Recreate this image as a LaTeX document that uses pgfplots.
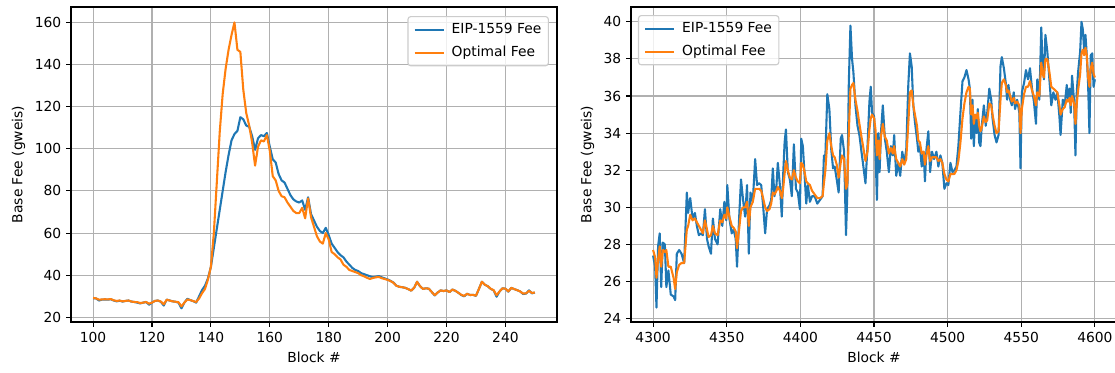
\documentclass[border=0pt]{standalone}
\usepackage{fontspec}
\setmainfont{DejaVu Sans}
\usepackage{pgfplots}
\usepackage{pgfplotstable}
\pgfplotsset{compat=1.18}
\definecolor{tblue}{HTML}{1F77B4}
\definecolor{torange}{HTML}{FF7F0E}
\definecolor{gridc}{HTML}{B0B0B0}
\definecolor{legc}{HTML}{CCCCCC}

\pgfplotstableread{
b e o
100 29.0 29.2
101 29.0 29.0
102 28.0 28.4
103 28.4 28.5
104 28.5 28.6
105 28.4 28.5
106 28.6 28.7
107 28.0 28.1
108 27.6 27.8
109 27.9 28.0
110 27.5 27.6
111 27.8 27.8
112 28.0 28.0
113 27.5 27.5
114 27.3 27.3
115 27.0 27.2
116 26.6 26.8
117 27.0 27.0
118 27.3 27.3
119 26.0 26.5
120 27.0 27.0
121 27.8 27.8
122 28.0 28.0
123 27.4 27.5
124 25.6 26.2
125 28.4 28.4
126 28.0 28.0
127 27.6 27.6
128 27.4 27.4
129 27.0 27.2
130 24.3 25.2
131 27.0 27.0
132 28.8 28.5
133 28.2 28.2
134 27.7 27.7
135 27.0 27.3
136 30.0 29.0
137 33.0 31.5
138 35.0 33.5
139 38.5 38.0
140 44.0 44.0
141 53.0 60.0
142 62.0 84.0
143 71.0 108.0
144 80.0 126.0
145 89.0 138.0
146 97.0 147.0
147 104.0 154.0
148 107.0 160.0
149 108.5 147.0
150 115.0 146.0
151 114.0 128.0
152 111.0 117.0
153 110.5 111.0
154 106.0 103.0
155 99.5 92.0
156 105.0 101.0
157 106.5 104.0
158 106.0 103.5
159 107.5 106.5
160 101.0 99.0
161 95.0 87.0
162 93.5 85.0
163 88.0 80.0
164 85.0 77.5
165 84.0 77.0
166 81.0 74.5
167 78.0 72.5
168 76.0 70.5
169 75.0 69.5
170 74.5 69.5
171 75.5 72.0
172 71.0 67.0
173 77.0 76.5
174 69.0 67.5
175 66.0 63.0
176 63.0 58.5
177 61.0 56.0
178 60.0 55.0
179 62.5 60.0
180 59.0 57.0
181 55.0 51.0
182 53.0 50.0
183 51.0 48.5
184 49.5 47.5
185 48.5 45.0
186 46.5 44.0
187 45.0 42.5
188 43.5 42.0
189 42.5 41.5
190 42.0 41.0
191 41.0 40.0
192 40.5 39.5
193 40.0 38.8
194 39.5 38.2
195 39.0 38.7
196 39.3 39.0
197 39.6 39.2
198 39.0 38.6
199 38.5 38.2
200 38.0 37.8
201 37.3 37.2
202 36.5 36.4
203 35.0 35.0
204 34.5 34.5
205 34.3 34.3
206 34.0 34.0
207 33.4 33.4
208 32.7 32.7
209 34.0 34.0
210 36.9 36.9
211 34.8 34.8
212 33.5 33.5
213 33.8 33.8
214 33.6 33.6
215 32.0 32.0
216 30.4 30.5
217 31.8 31.8
218 32.8 32.8
219 32.5 32.5
220 32.8 32.8
221 32.0 32.0
222 33.2 33.2
223 32.6 32.6
224 31.7 31.7
225 30.6 30.7
226 30.0 30.2
227 31.2 31.2
228 30.6 30.6
229 30.7 30.7
230 30.2 30.3
231 33.5 33.5
232 36.9 36.9
233 35.5 35.5
234 34.8 34.8
235 33.5 33.6
236 32.8 32.9
237 29.8 30.5
238 32.3 32.3
239 33.8 33.8
240 33.6 33.6
241 32.2 32.3
242 34.0 34.0
243 33.4 33.4
244 32.9 32.9
245 32.3 32.3
246 31.1 31.3
247 31.3 31.4
248 32.8 32.6
249 31.4 31.6
250 31.8 31.8
}\leftdata

\pgfplotstableread{
b e o
4300.0 27.4 27.7
4301.4 26.8 27.3
4302.3 24.6 26.2
4303.4 27.9 27.2
4304.5 28.6 27.9
4305.5 25.7 26.8
4306.6 28.1 27.7
4308.0 28.0 27.6
4309.0 25.7 27.7
4310.4 26.6 26.8
4312.0 25.3 26.8
4313.9 25.2 26.2
4315.0 25.0 25.6
4316.1 27.5 26.5
4317.7 27.7 26.9
4319.3 27.5 27.0
4321.1 27.0 27.0
4322.9 30.8 28.8
4323.8 29.7 29.0
4325.2 30.5 29.6
4326.8 29.4 29.3
4328.4 29.7 29.4
4329.7 29.0 29.2
4331.1 28.5 29.0
4332.5 28.6 28.8
4333.8 28.5 28.6
4335.2 29.9 29.3
4336.6 28.3 28.8
4337.7 27.9 28.4
4339.3 27.5 28.5
4340.6 29.4 29.0
4342.0 28.3 28.6
4343.8 28.0 28.5
4345.6 29.9 29.3
4347.0 29.0 29.2
4348.4 30.3 29.6
4349.7 29.3 29.4
4350.4 31.2 30.0
4351.8 29.4 29.5
4353.4 28.6 29.0
4354.7 28.8 28.9
4356.1 28.3 28.7
4357.0 26.8 27.8
4358.4 29.4 28.8
4359.7 31.5 29.8
4361.1 30.4 30.0
4362.5 29.5 30.0
4363.8 31.2 30.3
4365.0 27.5 29.0
4366.1 30.8 30.0
4367.7 30.3 30.3
4369.3 32.6 31.0
4370.6 31.2 31.0
4372.0 31.3 31.0
4373.4 31.2 30.9
4374.7 30.1 30.5
4376.1 28.6 30.0
4377.4 29.9 29.8
4379.0 30.1 29.9
4380.2 30.4 30.2
4381.3 32.1 30.8
4382.4 30.6 30.7
4383.8 31.2 30.9
4384.7 32.4 31.1
4386.1 31.2 30.9
4387.4 29.5 30.5
4388.3 31.7 31.0
4389.3 33.5 31.8
4390.2 34.2 32.5
4391.5 31.9 32.0
4392.9 31.5 31.6
4394.2 30.6 31.5
4395.6 33.4 32.0
4397.0 31.0 31.6
4398.3 30.8 31.4
4399.7 29.9 31.3
4400.6 33.7 32.4
4401.7 33.3 32.3
4402.9 31.7 31.9
4404.0 30.2 31.4
4405.1 31.2 31.3
4406.5 30.3 31.2
4407.9 30.6 30.9
4409.7 30.6 30.7
4411.5 30.2 30.5
4413.3 30.4 30.5
4415.1 30.6 30.6
4416.0 32.8 31.3
4417.0 32.8 32.0
4418.3 36.1 33.6
4419.7 35.3 34.0
4421.0 33.1 33.3
4422.2 32.1 32.8
4423.3 32.2 32.7
4424.7 31.5 32.3
4426.0 30.8 31.6
4427.4 33.7 32.4
4428.3 33.9 32.8
4429.7 33.0 32.6
4431.0 28.5 31.0
4431.9 30.8 31.2
4432.9 36.7 34.0
4434.0 39.8 36.4
4435.1 38.0 36.6
4436.0 37.3 36.7
4437.4 35.5 35.8
4438.8 34.4 35.2
4440.1 33.9 34.5
4441.5 33.0 33.8
4442.8 32.2 33.2
4444.2 31.3 32.5
4445.6 33.3 33.0
4446.9 35.7 34.2
4447.8 36.5 34.8
4448.7 35.1 35.0
4450.1 34.9 34.8
4451.0 33.1 34.2
4452.0 30.4 32.8
4452.9 34.0 33.6
4453.8 31.9 32.6
4454.7 34.0 33.8
4456.0 35.5 34.5
4457.4 33.7 33.8
4458.7 33.0 33.6
4460.1 31.9 32.9
4461.5 33.3 33.2
4462.8 32.8 32.9
4463.7 33.9 33.3
4465.1 31.7 32.6
4466.5 32.4 32.4
4467.8 31.7 32.2
4469.2 33.0 32.6
4470.5 32.4 32.3
4471.9 33.1 32.6
4473.3 36.6 34.5
4474.4 38.3 36.2
4475.6 37.6 36.3
4476.7 35.5 35.5
4477.8 34.6 35.0
4479.2 33.7 34.4
4480.1 33.0 33.6
4481.2 33.3 33.5
4482.4 32.2 32.9
4483.7 33.0 33.0
4484.6 31.4 32.3
4485.6 33.1 32.8
4486.9 34.1 33.3
4488.1 31.9 32.5
4489.4 33.0 32.7
4490.8 32.6 32.7
4492.4 33.0 32.7
4493.7 32.2 32.5
4495.1 32.8 32.6
4496.4 32.4 32.4
4497.8 31.0 31.8
4499.2 31.3 31.5
4500.5 31.2 31.4
4501.9 32.4 31.8
4503.3 31.9 31.8
4504.6 32.0 31.8
4506.0 32.2 32.0
4507.3 33.3 32.5
4508.7 35.1 33.5
4510.1 36.8 34.8
4511.4 37.0 35.6
4512.8 37.4 36.2
4514.2 36.9 36.5
4515.1 36.4 36.4
4516.0 33.7 35.0
4516.9 35.8 35.5
4517.8 33.3 34.5
4518.7 34.8 35.0
4519.6 34.0 34.8
4520.5 35.3 35.1
4521.4 33.5 34.4
4522.3 33.3 34.1
4523.2 34.4 34.3
4524.6 35.5 34.9
4525.9 34.4 34.6
4526.9 35.1 34.7
4528.3 36.4 35.6
4529.6 35.8 35.5
4530.5 34.8 35.0
4531.9 33.9 34.4
4533.2 33.5 34.0
4534.6 33.9 34.1
4535.9 37.6 35.8
4536.8 38.1 36.7
4538.2 37.5 36.9
4539.5 36.7 36.6
4540.4 35.8 36.2
4541.3 36.6 36.3
4542.5 35.8 36.0
4543.6 35.5 35.7
4544.9 36.2 35.9
4545.8 35.3 35.6
4547.2 35.8 35.7
4548.7 35.1 35.5
4549.5 32.1 34.0
4550.4 36.2 35.3
4551.9 36.7 36.1
4553.2 37.4 36.5
4554.6 36.9 36.5
4555.9 37.5 36.8
4557.3 36.4 36.3
4558.6 35.7 36.0
4560.0 34.5 35.5
4560.9 36.9 36.2
4562.3 35.8 36.0
4563.6 39.7 37.8
4564.5 37.6 37.2
4565.4 36.9 37.0
4566.4 39.3 38.0
4567.7 38.4 38.0
4569.1 36.9 37.3
4570.4 35.5 36.5
4571.8 36.2 36.4
4573.2 35.8 36.3
4574.5 36.2 36.2
4575.9 34.9 35.5
4576.7 33.9 35.0
4578.2 35.8 35.3
4579.5 35.5 35.4
4580.9 36.6 35.8
4581.8 35.8 35.7
4582.8 36.4 35.9
4583.6 35.1 35.5
4584.5 37.1 36.0
4585.9 35.7 35.6
4586.8 32.8 34.5
4587.7 36.2 35.6
4588.6 37.3 36.3
4590.0 38.4 37.2
4590.9 40.0 38.3
4591.8 39.6 38.5
4592.7 38.5 38.2
4593.6 39.3 38.6
4594.5 38.2 38.2
4595.4 36.6 37.0
4596.3 34.0 36.5
4597.2 38.2 37.5
4598.2 38.3 37.8
4599.1 36.5 37.2
4600.0 36.9 37.0
}\rightdata

\pgfplotsset{
  mystyle/.style={
    scale only axis, width=349.9bp, height=226.8bp,
    axis line style={line width=0.8bp},
    grid=major, major grid style={gridc, line width=0.8bp},
    tick align=outside, major tick length=3.5bp,
    every tick/.style={black, line width=0.8bp},
    xtick pos=bottom, ytick pos=left,
    tick label style={font=\fontsize{10}{12}\selectfont},
    /pgf/number format/assume math mode=true,
    /pgf/number format/1000 sep={},
    label style={font=\fontsize{10}{12}\selectfont},
    xlabel={Block \#}, ylabel={Base Fee (gweis)},
    legend cell align=left,
    legend style={draw=legc, rounded corners=2bp, fill=white, fill opacity=0.8, text opacity=1,
      font=\fontsize{10}{12}\selectfont, line width=0.8bp, inner xsep=3bp, inner ysep=3bp,
      row sep=3.5bp},
    legend image code/.code={\draw[##1] (0bp,0bp) -- (21bp,0bp); \path (-1bp,0bp) (24bp,0bp);},
    every axis plot/.append style={line width=1.5bp, line join=round},
  }
}

\begin{document}
\begin{tikzpicture}
\path[use as bounding box] (0,0) rectangle (802.8bp,268.56bp);
\begin{axis}[mystyle, at={(51.12bp,36.72bp)}, anchor=south west,
  xmin=92.5, xmax=257.5, ymin=17.8, ymax=167.3,
  xtick={100,120,...,240}, ytick={20,40,...,160},
  legend style={at={(1,1)}, anchor=north east, xshift=-5.8bp, yshift=-6.5bp}]
\addplot[tblue] table[x=b, y=e] {\leftdata};
\addlegendentry{EIP-1559 Fee}
\addplot[torange] table[x=b, y=o] {\leftdata};
\addlegendentry{Optimal Fee}
\end{axis}
\begin{axis}[mystyle, at={(454.32bp,36.72bp)}, anchor=south west,
  xmin=4285, xmax=4615, ymin=23.82, ymax=40.8,
  xtick={4300,4350,...,4600}, ytick={24,26,...,40},
  legend style={at={(0,1)}, anchor=north west, xshift=5bp, yshift=-5.8bp}]
\addplot[tblue] table[x=b, y=e] {\rightdata};
\addlegendentry{EIP-1559 Fee}
\addplot[torange] table[x=b, y=o] {\rightdata};
\addlegendentry{Optimal Fee}
\end{axis}
\end{tikzpicture}
\end{document}
